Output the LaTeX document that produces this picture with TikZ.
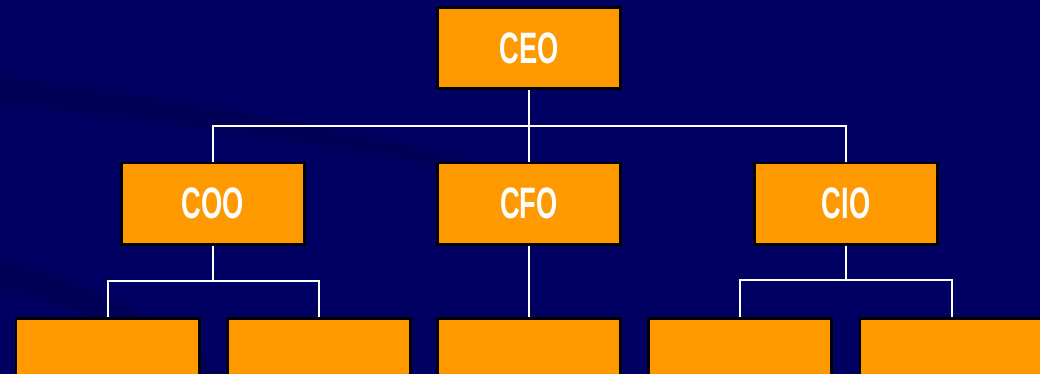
\documentclass[tikz,border=0pt]{standalone}
\usepackage{fontspec}
\setmainfont{Liberation Sans}
\definecolor{bgnavy}{HTML}{000062}
\definecolor{streak}{HTML}{00004A}
\definecolor{boxorange}{HTML}{FF9900}
\begin{document}
\begin{tikzpicture}[x=1pt,y=-1pt,
  orgbox/.style={draw=black,line width=2.6pt,fill=boxorange,minimum width=183.4pt,minimum height=81.4pt,inner sep=0pt,
    text=white,font=\fontsize{44}{44}\selectfont\bfseries},
  link/.style={draw=white,line width=2pt}]
\useasboundingbox (0,0) rectangle (1040,373);
\begin{scope}
\clip (-10,-10) rectangle (1050,390);
\fill[bgnavy] (-10,-10) rectangle (1050,390);
% faint background streaks
\fill[streak,opacity=0.45] (0,76) .. controls (200,100) and (420,140) .. (620,200)
   .. controls (420,160) and (200,125) .. (0,104) -- cycle;
\fill[streak,opacity=0.45] (0,258) .. controls (90,280) and (170,320) .. (240,390)
   -- (200,390) .. controls (140,330) and (70,305) .. (0,290) -- cycle;
\end{scope}
% nodes
\node[orgbox] (ceo) at (529,48) {\scalebox{0.62}[1]{CEO}};
\node[orgbox] (coo) at (213,203.5) {\scalebox{0.62}[1]{COO}};
\node[orgbox] (cfo) at (529,203.5) {\scalebox{0.62}[1]{CFO}};
\node[orgbox] (cio) at (846,203.5) {\scalebox{0.62}[1]{CIO}};
\node[orgbox] (b1) at (107.5,359) {};
\node[orgbox] (b2) at (319,359) {};
\node[orgbox] (b3) at (529,359) {};
\node[orgbox] (b4) at (740,359) {};
\node[orgbox] (b5) at (951.5,359) {};
\coordinate (bus0) at (529,126);
\coordinate (bus1) at (213,281);
\coordinate (bus3) at (846,280);
% connectors
\draw[link] (ceo.south) -- (bus0);
\draw[link] (coo.north) -- (coo.north |- bus0) -- (cio.north |- bus0) -- (cio.north);
\draw[link] (bus0) -- (cfo.north);
\draw[link] (coo.south) -- (bus1);
\draw[link] (b1.north) -- (b1.north |- bus1) -- (b2.north |- bus1) -- (b2.north);
\draw[link] (cfo.south) -- (b3.north);
\draw[link] (cio.south) -- (bus3);
\draw[link] (b4.north) -- (b4.north |- bus3) -- (b5.north |- bus3) -- (b5.north);
\end{tikzpicture}
\end{document}
